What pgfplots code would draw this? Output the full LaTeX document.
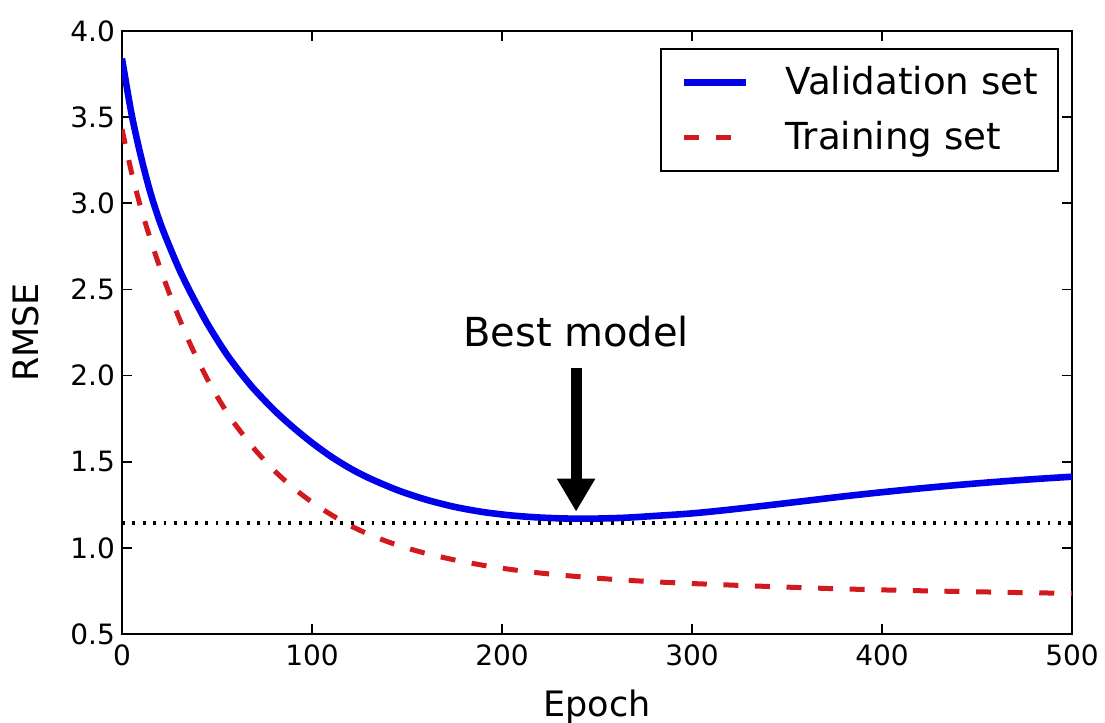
\documentclass[border=0pt]{standalone}
\usepackage{fontspec}
\setmainfont{DejaVu Sans}
\usepackage{pgfplots}
\pgfplotsset{compat=1.18}
\usetikzlibrary{arrows.meta}
\definecolor{valblue}{RGB}{0,0,235}
\definecolor{trainred}{RGB}{210,25,30}
\begin{document}
\begin{tikzpicture}
\useasboundingbox (-61pt,-44.5pt) rectangle (491.5pt,317pt);
\begin{axis}[
  scale only axis, width=475pt, height=301.5pt,
  xmin=0, xmax=500, ymin=0.5, ymax=4.0,
  xtick={0,100,200,300,400,500},
  ytick={0.5,1.0,1.5,2.0,2.5,3.0,3.5,4.0},
  tick align=inside, xtick pos=both, ytick pos=both,
  major tick length=5pt,
  axis line style={line width=0.9pt},
  every tick/.style={black, line width=0.9pt},
  tick label style={font=\fontsize{14}{16}\selectfont},
  /pgf/number format/assume math mode=true,
  yticklabel style={/pgf/number format/fixed, /pgf/number format/fixed zerofill, /pgf/number format/precision=1},
  xticklabel style={yshift=-1.8pt},
  xlabel={Epoch},
  xlabel style={at={(axis description cs:0.5,-0.1376)}, anchor=base, font=\fontsize{17.5}{20}\selectfont},
  ylabel={RMSE},
  ylabel style={at={(axis description cs:-0.101,0.5)}, anchor=center, font=\fontsize{17.5}{20}\selectfont},
  legend cell align=left,
  legend image code/.code={\draw[#1] (0pt,0pt) -- (31pt,0pt); \path (49pt,0pt);},
  legend style={at={(rel axis cs:0.9863,0.9718)}, anchor=north east, draw=black, line width=1pt,
    font=\fontsize{18.6}{22}\selectfont, inner xsep=10pt, inner ysep=8.5pt, row sep=11.1pt,
    nodes={inner sep=0pt, text height=14.1pt, text depth=2.3pt}},
]
\addplot[valblue, line width=3.3pt, smooth] coordinates {
(0,3.84) (5,3.52) (10,3.27) (15,3.06) (20,2.89) (25,2.75) (30,2.62) (35,2.505)
(40,2.40) (45,2.30) (50,2.21) (55,2.125) (60,2.05) (65,1.98) (70,1.915) (80,1.80)
(90,1.70) (100,1.61) (110,1.53) (120,1.462) (130,1.405) (145,1.335) (160,1.28)
(175,1.238) (190,1.208) (205,1.188) (220,1.176) (235,1.17) (250,1.17) (265,1.175)
(280,1.185) (300,1.20) (320,1.222) (340,1.247) (360,1.273) (380,1.299) (400,1.323)
(420,1.345) (440,1.365) (460,1.383) (480,1.399) (500,1.413)
};
\addlegendentry{Validation set}
\addplot[trainred, line width=2.5pt, dash pattern=on 7.5pt off 8.3pt, smooth] coordinates {
(0,3.43) (5,3.18) (10,2.97) (15,2.79) (20,2.625) (25,2.475) (30,2.335) (35,2.205)
(40,2.087) (45,1.978) (50,1.88) (55,1.79) (60,1.71) (70,1.57) (80,1.45) (90,1.35)
(100,1.265) (110,1.193) (120,1.13) (130,1.078) (140,1.035) (150,0.999) (160,0.968)
(175,0.93) (190,0.899) (205,0.874) (220,0.854) (240,0.833) (260,0.816) (280,0.803)
(300,0.793) (325,0.782) (350,0.772) (375,0.763) (400,0.756) (425,0.75) (450,0.745)
(475,0.740) (500,0.736)
};
\addlegendentry{Training set}
\addplot[black, line width=2.2pt, dash pattern=on 1.4pt off 3.8pt, forget plot] coordinates {(0,1.143) (500,1.143)};
\draw[black, line width=5.5pt, -{Triangle[width=18pt, length=16.5pt]}] (axis cs:239,2.042) -- (axis cs:239,1.21);
\node[anchor=base, inner sep=0pt, font=\fontsize{20}{24}\selectfont] at (axis cs:239,2.168) {Best model};
\end{axis}
\end{tikzpicture}
\end{document}
